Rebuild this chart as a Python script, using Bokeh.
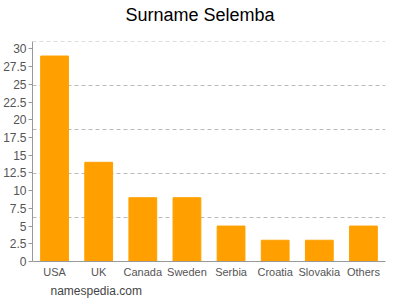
from bokeh.plotting import figure
from bokeh.layouts import column
from bokeh.models import FixedTicker, Range1d, Title, Grid, Div
from bokeh.embed import file_html
from bokeh.resources import INLINE

categories = ["USA", "UK", "Canada", "Sweden", "Serbia", "Croatia", "Slovakia", "Others"]
counts = [29, 14, 9, 9, 5, 3, 3, 5]
y_ticks = [0, 2.5, 5, 7.5, 10, 12.5, 15, 17.5, 20, 22.5, 25, 27.5, 30]
grid_lines = [6.2, 12.4, 18.6, 24.8, 31]

head = Div(text="Surname Selemba", width=400, height=39, margin=0,
           styles={"text-align": "center", "font-size": "18px", "font-family": "Arial",
                   "color": "#000000", "line-height": "22px", "padding-top": "4px",
                   "width": "400px"})

p = figure(x_range=categories, width=400, height=261, output_backend="svg",
           toolbar_location=None, min_border_left=30, min_border_right=15,
           min_border_top=2, min_border_bottom=39, margin=0)
p.title = None
p.y_range = Range1d(0, 31.05)

p.vbar(x=categories, top=counts, width=0.63, color="#ffa000")

foot = Title(text="namespedia.com", align="left", text_font="Arial",
             text_font_size="12px", text_font_style="normal", offset=18, standoff=3)
p.add_layout(foot, "below")

p.outline_line_color = None
p.xgrid.grid_line_color = None
p.ygrid.grid_line_color = None
p.add_layout(Grid(dimension=1, ticker=FixedTicker(ticks=grid_lines),
                  grid_line_color="#bbbbbb", grid_line_dash="4 3"))

p.yaxis.ticker = FixedTicker(ticks=y_ticks)
for ax in (p.xaxis, p.yaxis):
    ax.axis_line_color = "#999999"
    ax.major_tick_line_color = "#999999"
    ax.minor_tick_line_color = None
    ax.major_label_text_color = "#555555"
    ax.major_label_text_font = "Arial"
    ax.major_label_text_font_size = "11px"
p.yaxis.major_label_text_font_size = "12px"
p.yaxis.major_tick_out = 4
p.yaxis.major_tick_in = 0
p.xaxis.major_tick_out = 0
p.xaxis.major_tick_in = 0
p.yaxis.major_label_standoff = 2
p.xaxis.major_label_standoff = 4

layout = column(head, p, spacing=0, margin=0)
open("out.html", "w").write(file_html(layout, INLINE))
